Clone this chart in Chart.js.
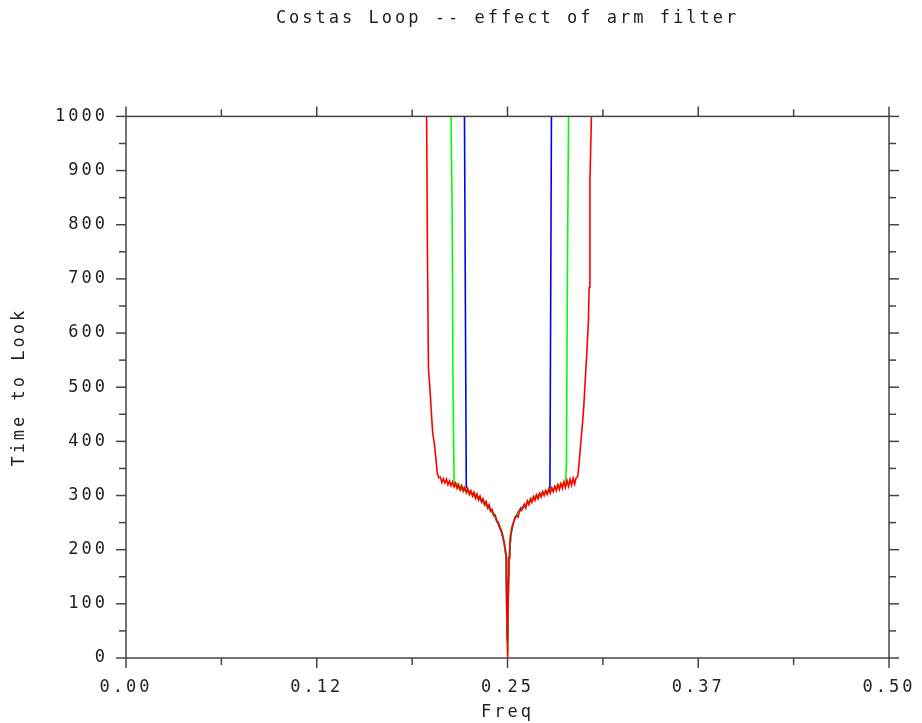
<!DOCTYPE html>
<html><head><meta charset="utf-8">
<script src="https://cdn.jsdelivr.net/npm/chart.js@4.4.1/dist/chart.umd.min.js"></script>
<style>html,body{margin:0;padding:0;background:#fff;}#wrap{width:922px;height:723px;}</style>
</head><body><div id="wrap"><canvas id="c" width="922" height="723"></canvas></div>
<script>
// ---- data ----
const xTickValues = [0, 0.125, 0.25, 0.375, 0.5];
const xTickLabels = ['0.00', '0.12', '0.25', '0.37', '0.50'];
const xMinorTicks = [0.0625, 0.1875, 0.3125, 0.4375];
const yTickValues = [0, 100, 200, 300, 400, 500, 600, 700, 800, 900, 1000];
const yTickLabels = ['0', '100', '200', '300', '400', '500', '600', '700', '800', '900', '1000'];
const yMinorTicks = [50, 150, 250, 350, 450, 550, 650, 750, 850, 950];

const redFreq = [0.1970,0.1975,0.1982,0.1990,0.2000,0.2010,0.2020,0.2030,0.2040,0.2050,
  0.206,0.207,0.208,0.209,0.210,0.211,0.212,0.213,0.214,0.215,
  0.216,0.217,0.218,0.219,0.220,0.221,0.222,0.223,0.224,0.225,
  0.226,0.227,0.228,0.229,0.230,0.231,0.232,0.233,0.234,0.235,
  0.236,0.237,0.238,0.239,0.240,0.241,0.242,0.243,0.244,0.245,
  0.246,0.247,0.248,0.249,
  0.2493,0.2495,0.2498,0.2500,0.2503,0.2506,0.2510,0.2515,
  0.252,0.253,0.254,0.255,0.256,0.257,0.258,0.259,0.260,0.261,
  0.262,0.263,0.264,0.265,0.266,0.267,0.268,0.269,0.270,0.271,
  0.272,0.273,0.274,0.275,0.276,0.277,0.278,0.279,0.280,0.281,
  0.282,0.283,0.284,0.285,0.286,0.287,0.288,0.289,0.290,0.291,
  0.292,0.293,0.294,0.295,0.296,
  0.297,0.298,0.299,0.300,0.301,0.302,0.303,0.3035,0.304,0.305];
const redTime = [1000,762,533,504,458,415,397,371,341,333,
  334,324,331,323,330,320,327,318,325,316,
  323,313,320,310,318,308,315,305,312,302,
  309,299,306,295,303,292,299,288,294,283,
  289,277,283,271,274,263,264,252,251,240,
  236,224,212,192,
  185,90,40,0,45,135,185,210,
  225,242,250,260,263,260,274,272,276,284,
  277,290,283,294,287,298,291,301,294,304,
  297,307,300,309,302,312,304,314,307,317,
  309,320,311,322,313,325,315,328,317,330,
  319,332,321,333,335,
  362,397,428,465,515,565,620,684,878,1000];

const greenFreq = [0.2130,0.2137,0.2143,0.2150,
  0.216,0.217,0.218,0.219,0.220,0.221,0.222,0.223,0.224,0.225,
  0.226,0.227,0.228,0.229,0.230,0.231,0.232,0.233,0.234,0.235,
  0.236,0.237,0.238,0.239,0.240,0.241,0.242,0.243,0.244,0.245,
  0.246,0.247,0.248,0.249,
  0.2494,0.2498,0.2500,0.2503,0.2507,0.2512,0.2518,
  0.252,0.253,0.254,0.255,0.256,0.257,0.258,0.259,0.260,0.261,
  0.262,0.263,0.264,0.265,0.266,0.267,0.268,0.269,0.270,0.271,
  0.272,0.273,0.274,0.275,0.276,0.277,0.278,0.279,0.280,0.281,
  0.282,0.283,0.284,0.285,0.286,0.287,0.288,
  0.2886,0.2892,0.2900];
const greenTime = [1000,830,494,325,
  318,322,314,317,311,315,309,312,306,308,
  303,305,299,302,296,298,292,294,287,289,
  282,283,276,276,269,267,259,256,248,244,
  234,225,210,190,
  120,50,10,60,138,190,218,
  228,243,250,261,263,268,274,273,279,280,
  284,285,290,289,294,293,298,297,301,300,
  304,303,307,306,309,308,312,311,314,313,
  317,316,320,318,322,320,325,
  352,683,1000];

const blueFreq = [0.2218,0.2224,0.2230,
  0.224,0.225,0.226,0.227,0.228,0.229,0.230,0.231,0.232,0.233,
  0.234,0.235,0.236,0.237,0.238,0.239,0.240,0.241,0.242,0.243,
  0.244,0.245,0.246,0.247,0.248,0.249,
  0.2494,0.2498,0.2500,0.2503,0.2507,0.2512,0.2518,
  0.252,0.253,0.254,0.255,0.256,0.257,0.258,0.259,0.260,0.261,
  0.262,0.263,0.264,0.265,0.266,0.267,0.268,0.269,0.270,0.271,
  0.272,0.273,0.274,0.275,0.276,0.277,
  0.2778,0.2783,0.2788];
const blueTime = [1000,655,318,
  309,306,305,302,302,299,298,294,294,289,
  289,283,284,278,277,271,270,263,260,252,
  247,240,232,222,208,188,
  100,40,30,70,140,185,215,
  226,238,251,259,262,270,271,278,277,283,
  282,287,287,291,292,295,296,300,299,303,
  302,305,305,308,307,310,
  310,660,1000];

// ---- chart ----
const FONT = "'DejaVu Sans Mono', monospace";
const TXT = '#222';
const pts = (xs, ys) => xs.map((x, i) => ({x: x, y: ys[i]}));

const spacingPlugin = {
  id: 'spacing',
  beforeUpdate(c) { c.ctx.letterSpacing = '3px'; },
  beforeLayout(c) { c.ctx.letterSpacing = '3px'; },
  beforeDraw(c) { c.ctx.letterSpacing = '3px'; }
};

const framePlugin = {
  id: 'frame',
  afterDatasetsDraw(chart) {
    const ctx = chart.ctx;
    const {left, right, top, bottom} = chart.chartArea;
    const xs = chart.scales.x, ys = chart.scales.y;
    ctx.save();
    ctx.strokeStyle = '#444';
    ctx.lineWidth = 1.5;
    ctx.strokeRect(left, top, right - left, bottom - top);
    const seg = (a, b, c2, d) => { ctx.beginPath(); ctx.moveTo(a, b); ctx.lineTo(c2, d); ctx.stroke(); };
    xTickValues.forEach(v => { const p = xs.getPixelForValue(v); seg(p, bottom, p, bottom + 10); seg(p, top, p, top - 10); });
    xMinorTicks.forEach(v => { const p = xs.getPixelForValue(v); seg(p, bottom, p, bottom + 7); seg(p, top, p, top - 7); });
    yTickValues.forEach(v => { const p = ys.getPixelForValue(v); seg(left, p, left - 10, p); seg(right, p, right + 10, p); });
    yMinorTicks.forEach(v => { const p = ys.getPixelForValue(v); seg(left, p, left - 7, p); seg(right, p, right + 7, p); });
    ctx.restore();
  }
};

const ds = (label, xs, ys, color) => ({
  label: label, data: pts(xs, ys), borderColor: color, backgroundColor: color,
  borderWidth: 1.6, pointRadius: 0, tension: 0, fill: false
});

new Chart(document.getElementById('c'), {
  type: 'line',
  data: { datasets: [
    ds('red', redFreq, redTime, '#ff0000'),
    ds('green', greenFreq, greenTime, '#00ff00'),
    ds('blue', blueFreq, blueTime, '#0000ff')
  ]},
  options: {
    responsive: false, animation: false, devicePixelRatio: 1,
    layout: { padding: { left: 0, right: 33, top: 0, bottom: 0 } },
    plugins: {
      legend: { display: false },
      tooltip: { enabled: false },
      title: { display: true, text: 'Costas Loop -- effect of arm filter', fullSize: false,
        font: { family: FONT, size: 17, weight: 'normal' }, color: TXT,
        padding: { top: 8, bottom: 88 } }
    },
    scales: {
      x: {
        type: 'linear', position: 'bottom', min: 0, max: 0.5,
        afterBuildTicks: s => { s.ticks = xTickValues.map(v => ({value: v})); },
        afterFit: s => { s.height = 65; s.paddingLeft = 0; s.paddingRight = 0; },
        ticks: { callback: (v, i) => xTickLabels[i], font: { family: FONT, size: 17 }, color: TXT,
          padding: 11, maxRotation: 0, autoSkip: false },
        grid: { display: false }, border: { display: false },
        title: { display: true, text: 'Freq', font: { family: FONT, size: 17 }, color: TXT,
          padding: { top: 2, bottom: 0 } }
      },
      y: {
        type: 'linear', position: 'left', min: 0, max: 1000,
        afterBuildTicks: s => { s.ticks = yTickValues.map(v => ({value: v})); },
        afterFit: s => { s.width = 126; s.paddingTop = 0; s.paddingBottom = 0; },
        ticks: { callback: (v, i) => yTickLabels[i], font: { family: FONT, size: 17 }, color: TXT,
          padding: 10, autoSkip: false },
        grid: { display: false }, border: { display: false },
        title: { display: true, text: 'Time to Look', font: { family: FONT, size: 17 }, color: TXT,
          padding: { top: 9, bottom: 0 } }
      }
    }
  },
  plugins: [spacingPlugin, framePlugin]
});
</script></body></html>
